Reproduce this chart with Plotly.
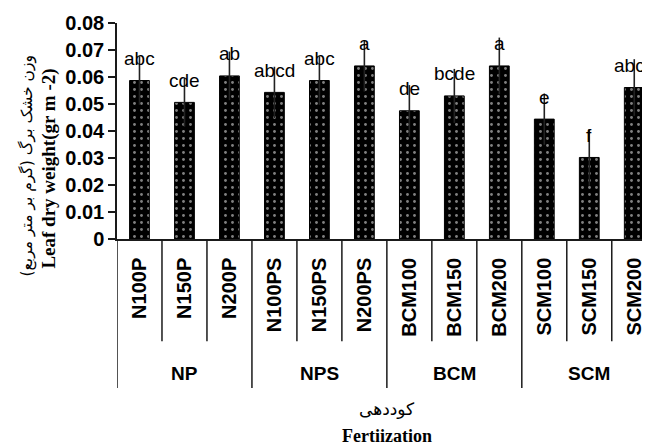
import plotly.graph_objects as go

# ---- data ----
categories = ["N100P", "N150P", "N200P", "N100PS", "N150PS", "N200PS",
              "BCM100", "BCM150", "BCM200", "SCM100", "SCM150", "SCM200"]
groups = ["NP", "NPS", "BCM", "SCM"]
group_size = 3
values = [0.0587, 0.0506, 0.0604, 0.0543, 0.0587, 0.0641,
          0.0475, 0.0530, 0.0641, 0.0444, 0.0302, 0.0561]
errors = [0.0090, 0.0090, 0.0090, 0.0095, 0.0090, 0.0095,
          0.0095, 0.0100, 0.0105, 0.0095, 0.0105, 0.0105]
letters = ["abc", "cde", "ab", "abcd", "abc", "a",
           "de", "bcde", "a", "e", "f", "abcd"]
y_tickvals = [0, 0.01, 0.02, 0.03, 0.04, 0.05, 0.06, 0.07, 0.08]
y_ticktext = ["0", "0.01", "0.02", "0.03", "0.04", "0.05", "0.06", "0.07", "0.08"]
y_title_fa = "وزن خشک برگ (گرم بر متر مربع)"
y_title_en = "Leaf dry weight(gr m -2)"
x_title_fa = "کوددهی"
x_title_en = "Fertiization"

SANS = "Liberation Sans, Arial, sans-serif"
SERIF = "Liberation Serif, Times New Roman, serif"

fig = go.Figure()
fig.add_trace(go.Bar(
    x=categories, y=values,
    marker=dict(color="black",
                line=dict(color="black", width=1),
                pattern=dict(shape=".", fgcolor="white", bgcolor="black",
                             size=7, solidity=0.13, fillmode="overlay")),
    error_y=dict(type="data", array=errors, visible=True,
                 color="#222222", thickness=1.6, width=0),
    showlegend=False,
))

annotations = []
for c, v, t in zip(categories, values, letters):
    annotations.append(dict(x=c, y=v, text=t, showarrow=False, yshift=22,
                            yanchor="middle", xanchor="center",
                            font=dict(family=SANS, size=19, color="black")))

shapes = []
n = len(categories)
line_style = dict(color="#1a1a1a", width=1.5)
for i in range(1, n):
    if i % group_size != 0:
        shapes.append(dict(type="line", xref="x", yref="paper",
                           x0=i - 0.5, x1=i - 0.5, y0=0, y1=-0.473, line=line_style))
for g in range(len(groups) + 1):
    xb = g * group_size - 0.5
    shapes.append(dict(type="line", xref="x", yref="paper",
                       x0=xb, x1=xb, y0=0, y1=-0.69, line=line_style))

for g, name in enumerate(groups):
    mid = categories[g * group_size + group_size // 2]
    annotations.append(dict(x=mid, y=-0.623, xref="x", yref="paper", text="<b>" + name + "</b>",
                            showarrow=False, yanchor="middle",
                            font=dict(family=SANS, size=19, color="black")))

center_x = (n - 1) / 2
annotations.append(dict(x=center_x, y=-0.789, xref="x", yref="paper", text=x_title_fa,
                        showarrow=False, yanchor="middle",
                        font=dict(family="DejaVu Sans, sans-serif", size=17, color="black")))
annotations.append(dict(x=center_x, y=-0.914, xref="x", yref="paper", text="<b>" + x_title_en + "</b>",
                        showarrow=False, yanchor="middle",
                        font=dict(family=SERIF, size=18, color="black")))

annotations.append(dict(x=0, y=0.336, xref="paper", yref="paper", xshift=-90,
                        text=y_title_fa, textangle=-90, showarrow=False,
                        xanchor="center", yanchor="middle",
                        font=dict(family="DejaVu Sans, sans-serif", size=15.5, color="black")))
annotations.append(dict(x=0, y=0.326, xref="paper", yref="paper", xshift=-68,
                        text="<b>" + y_title_en + "</b>", textangle=-90, showarrow=False,
                        xanchor="center", yanchor="middle",
                        font=dict(family=SERIF, size=19, color="black")))

fig.update_layout(
    width=642, height=439,
    margin=dict(l=109, r=0, t=15, b=207.5, autoexpand=False),
    paper_bgcolor="white", plot_bgcolor="white",
    bargap=0.56,
    xaxis=dict(type="category", range=[-0.5, 11.35], showline=True, linecolor="#1a1a1a",
               linewidth=1.5, ticks="", tickangle=-90, ticklabelstandoff=9,
               automargin=False,
               tickfont=dict(family=SANS, size=20, color="black"), showgrid=False,
               zeroline=False),
    yaxis=dict(range=[0, 0.08], tickvals=y_tickvals, ticktext=y_ticktext,
               showline=True, linecolor="#1a1a1a", linewidth=1.5, ticks="outside",
               ticklen=7, tickwidth=1.5, tickcolor="#1a1a1a", automargin=False,
               tickfont=dict(family=SANS, size=20, color="black"), showgrid=False,
               zeroline=False),
    annotations=annotations,
    shapes=shapes,
)
fig.update_xaxes(tickvals=categories, ticktext=["<b>" + c + "</b>" for c in categories])
fig.update_yaxes(ticktext=["<b>" + t + "</b>" for t in y_ticktext])

fig.write_html("out.html")
